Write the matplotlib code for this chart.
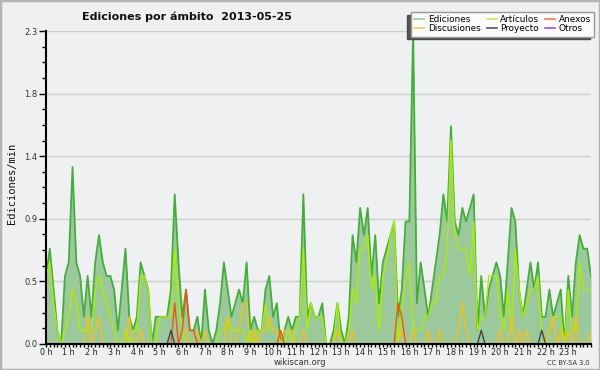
import matplotlib
matplotlib.use("Agg")
import matplotlib.pyplot as plt
import numpy as np
from matplotlib.patches import Rectangle

# 10-minute bins from 00:00 to 24:00 (145 points), edits per minute
ediciones = [
    0.5, 0.7, 0.4, 0.1, 0.0, 0.5, 0.6, 1.3, 0.6, 0.5, 0.2, 0.5,
    0.2, 0.6, 0.8, 0.6, 0.5, 0.5, 0.4, 0.1, 0.4, 0.7, 0.2, 0.1,
    0.2, 0.6, 0.5, 0.4, 0.0, 0.2, 0.2, 0.2, 0.2, 0.4, 1.1, 0.6,
    0.2, 0.4, 0.1, 0.1, 0.2, 0.0, 0.4, 0.1, 0.0, 0.1, 0.3, 0.6,
    0.4, 0.2, 0.3, 0.4, 0.3, 0.6, 0.1, 0.2, 0.1, 0.1, 0.4, 0.5,
    0.2, 0.3, 0.0, 0.1, 0.2, 0.1, 0.2, 0.2, 1.1, 0.2, 0.3, 0.2,
    0.2, 0.3, 0.0, 0.0, 0.1, 0.3, 0.1, 0.0, 0.2, 0.8, 0.6, 1.0,
    0.8, 1.0, 0.5, 0.8, 0.3, 0.6, 0.7, 0.8, 0.9, 0.2, 0.4, 0.9,
    0.9, 2.3, 0.3, 0.6, 0.4, 0.2, 0.4, 0.6, 0.8, 1.1, 0.9, 1.6,
    0.9, 0.8, 1.0, 0.9, 1.0, 1.1, 0.1, 0.5, 0.2, 0.4, 0.5, 0.6,
    0.5, 0.2, 0.6, 1.0, 0.9, 0.4, 0.2, 0.4, 0.6, 0.4, 0.6, 0.2,
    0.2, 0.4, 0.2, 0.3, 0.4, 0.0, 0.5, 0.2, 0.6, 0.8, 0.7, 0.7,
    0.5,
]
articulos = [
    0.5, 0.6, 0.3, 0.1, 0.0, 0.1, 0.2, 0.4, 0.3, 0.1, 0.1, 0.1,
    0.1, 0.4, 0.5, 0.4, 0.3, 0.2, 0.1, 0.0, 0.0, 0.1, 0.0, 0.1,
    0.1, 0.5, 0.5, 0.4, 0.0, 0.0, 0.2, 0.2, 0.2, 0.2, 0.7, 0.3,
    0.1, 0.0, 0.0, 0.0, 0.0, 0.0, 0.0, 0.0, 0.0, 0.0, 0.1, 0.1,
    0.2, 0.1, 0.1, 0.1, 0.1, 0.0, 0.1, 0.0, 0.1, 0.1, 0.3, 0.1,
    0.1, 0.1, 0.0, 0.0, 0.1, 0.0, 0.1, 0.2, 0.7, 0.1, 0.3, 0.2,
    0.2, 0.2, 0.0, 0.0, 0.0, 0.3, 0.0, 0.0, 0.1, 0.4, 0.3, 0.7,
    0.7, 0.8, 0.4, 0.5, 0.1, 0.5, 0.6, 0.8, 0.9, 0.0, 0.2, 0.5,
    0.6, 0.1, 0.1, 0.1, 0.2, 0.2, 0.3, 0.3, 0.5, 0.5, 0.7, 1.5,
    0.8, 0.7, 0.7, 0.7, 0.5, 0.9, 0.1, 0.2, 0.2, 0.5, 0.5, 0.5,
    0.2, 0.1, 0.4, 0.1, 0.7, 0.4, 0.2, 0.3, 0.4, 0.4, 0.5, 0.1,
    0.0, 0.1, 0.2, 0.2, 0.2, 0.0, 0.4, 0.1, 0.1, 0.6, 0.4, 0.4,
    0.4,
]
discusiones = [
    0.0, 0.0, 0.0, 0.0, 0.0, 0.0, 0.0, 0.0, 0.0, 0.0, 0.0, 0.2,
    0.0, 0.1, 0.2, 0.0, 0.0, 0.0, 0.0, 0.0, 0.0, 0.0, 0.2, 0.0,
    0.0, 0.1, 0.0, 0.0, 0.0, 0.0, 0.0, 0.0, 0.0, 0.0, 0.0, 0.0,
    0.1, 0.1, 0.0, 0.0, 0.1, 0.0, 0.1, 0.0, 0.0, 0.0, 0.0, 0.0,
    0.2, 0.0, 0.0, 0.1, 0.3, 0.3, 0.0, 0.1, 0.0, 0.1, 0.1, 0.2,
    0.1, 0.1, 0.0, 0.1, 0.1, 0.1, 0.0, 0.0, 0.1, 0.0, 0.0, 0.0,
    0.0, 0.0, 0.0, 0.0, 0.0, 0.1, 0.0, 0.0, 0.0, 0.1, 0.0, 0.0,
    0.0, 0.0, 0.0, 0.0, 0.0, 0.0, 0.0, 0.0, 0.0, 0.0, 0.1, 0.0,
    0.0, 0.1, 0.0, 0.0, 0.0, 0.1, 0.0, 0.0, 0.1, 0.0, 0.0, 0.0,
    0.0, 0.1, 0.3, 0.1, 0.0, 0.0, 0.0, 0.0, 0.0, 0.0, 0.0, 0.0,
    0.1, 0.0, 0.0, 0.2, 0.0, 0.1, 0.0, 0.1, 0.0, 0.0, 0.0, 0.0,
    0.0, 0.1, 0.2, 0.0, 0.1, 0.0, 0.1, 0.0, 0.2, 0.0, 0.0, 0.0,
    0.1,
]
anexos_pts = {34: 0.3, 36: 0.1, 37: 0.4, 38: 0.1, 39: 0.1, 62: 0.1, 93: 0.3, 94: 0.2}
proyecto_pts = {33: 0.1, 115: 0.1, 131: 0.1}
anexos = [anexos_pts.get(i, 0.0) for i in range(145)]
proyecto = [proyecto_pts.get(i, 0.0) for i in range(145)]
otros = [0.0] * 145

hours = np.arange(145) / 6.0
hour_labels = [f"{h} h" for h in range(24)]
y_ticks = [0.0, 0.46, 0.92, 1.38, 1.84, 2.3]
y_labels = ["0.0", "0.5", "0.9", "1.4", "1.8", "2.3"]

series = [
    ("Ediciones", ediciones, "#44ad3c", "#8fd08f"),
    ("Discusiones", discusiones, "#f2c214", "#f0d050"),
    ("Artículos", articulos, "#aaee00", "#c8ee50"),
    ("Proyecto", proyecto, "#444444", "#555555"),
    ("Anexos", anexos, "#ee5511", "#f08050"),
    ("Otros", otros, "#9933cc", "#9955dd"),
]

bg = "#eff0f1"
fig = plt.figure(figsize=(6.0, 3.7), dpi=100, facecolor=bg)
fig.patches.append(Rectangle((0, 0), 1, 1, transform=fig.transFigure,
                             fill=False, edgecolor="#b4b4b4", linewidth=2.5))
ax = fig.add_axes([0.0767, 0.0703, 0.9083, 0.8459])
ax.set_facecolor(bg)

ax.fill_between(hours, ediciones, 0, color="#9cc99c", linewidth=0, zorder=1)
draw_order = ["Ediciones", "Artículos", "Discusiones", "Anexos", "Proyecto", "Otros"]
sd = {s[0]: s for s in series}
for name in draw_order:
    _, vals, lc, _ = sd[name]
    ax.plot(hours, vals, color=lc, linewidth=1.3 if name == "Ediciones" else 1.0, zorder=2)

ax.set_xlim(0, 24)
ax.set_ylim(0, 2.3)
ax.set_xticks(range(24))
ax.set_xticklabels(hour_labels, fontsize=5.8, color="#222222")
ax.set_xticks(np.arange(0, 24.01, 1 / 6), minor=True)
ax.set_yticks(y_ticks)
ax.set_yticklabels(y_labels, fontsize=6, color="#333333")
ax.set_yticks(np.arange(0, 2.31, 0.115), minor=True)
ax.tick_params(axis="x", which="both", length=2.5, width=1, direction="out", pad=0.3)
ax.tick_params(axis="y", which="major", length=5, width=1, pad=1)
ax.tick_params(axis="y", which="minor", length=3, width=1)
ax.grid(axis="y", which="major", color="#cccccc", linewidth=1)
ax.set_axisbelow(True)
for s in ["top", "right"]:
    ax.spines[s].set_visible(False)
for s in ["left", "bottom"]:
    ax.spines[s].set_linewidth(1.5)
    ax.spines[s].set_color("black")
    ax.spines[s].set_zorder(5)

fig.text(0.312, 0.955, "Ediciones por ámbito  2013-05-25", ha="center", va="center",
         fontsize=8.0, fontweight="bold", color="#111111")
fig.text(0.02, 0.505, "Ediciones/min", rotation=90, ha="center", va="center",
         fontsize=7.5, family="DejaVu Sans Mono", color="#111111")
fig.text(0.5, 0.019, "wikiscan.org", ha="center", va="center", fontsize=6.0, color="#333333")
fig.text(0.983, 0.019, "CC BY-SA 3.0", ha="right", va="center", fontsize=4.8, color="#333333")

handles = []
for name, _, _, legc in series:
    h, = ax.plot([], [], color=legc, linewidth=1.2, label=name)
    handles.append(h)
leg = fig.legend(handles=handles, ncol=3, loc="upper right",
                 bbox_to_anchor=(0.99, 0.968), fontsize=6.4, frameon=True,
                 handlelength=1.1, handletextpad=0.4, columnspacing=0.7,
                 labelspacing=0.05, borderpad=0.35, borderaxespad=0.0,
                 fancybox=False, shadow={"ox": -3, "oy": -2, "facecolor": "#555555", "alpha": 1})
leg.get_frame().set_facecolor("#fbfbfb")
leg.get_frame().set_edgecolor("#999999")
leg.get_frame().set_linewidth(1.0)

fig.savefig("out.png", dpi=100, facecolor=bg)
